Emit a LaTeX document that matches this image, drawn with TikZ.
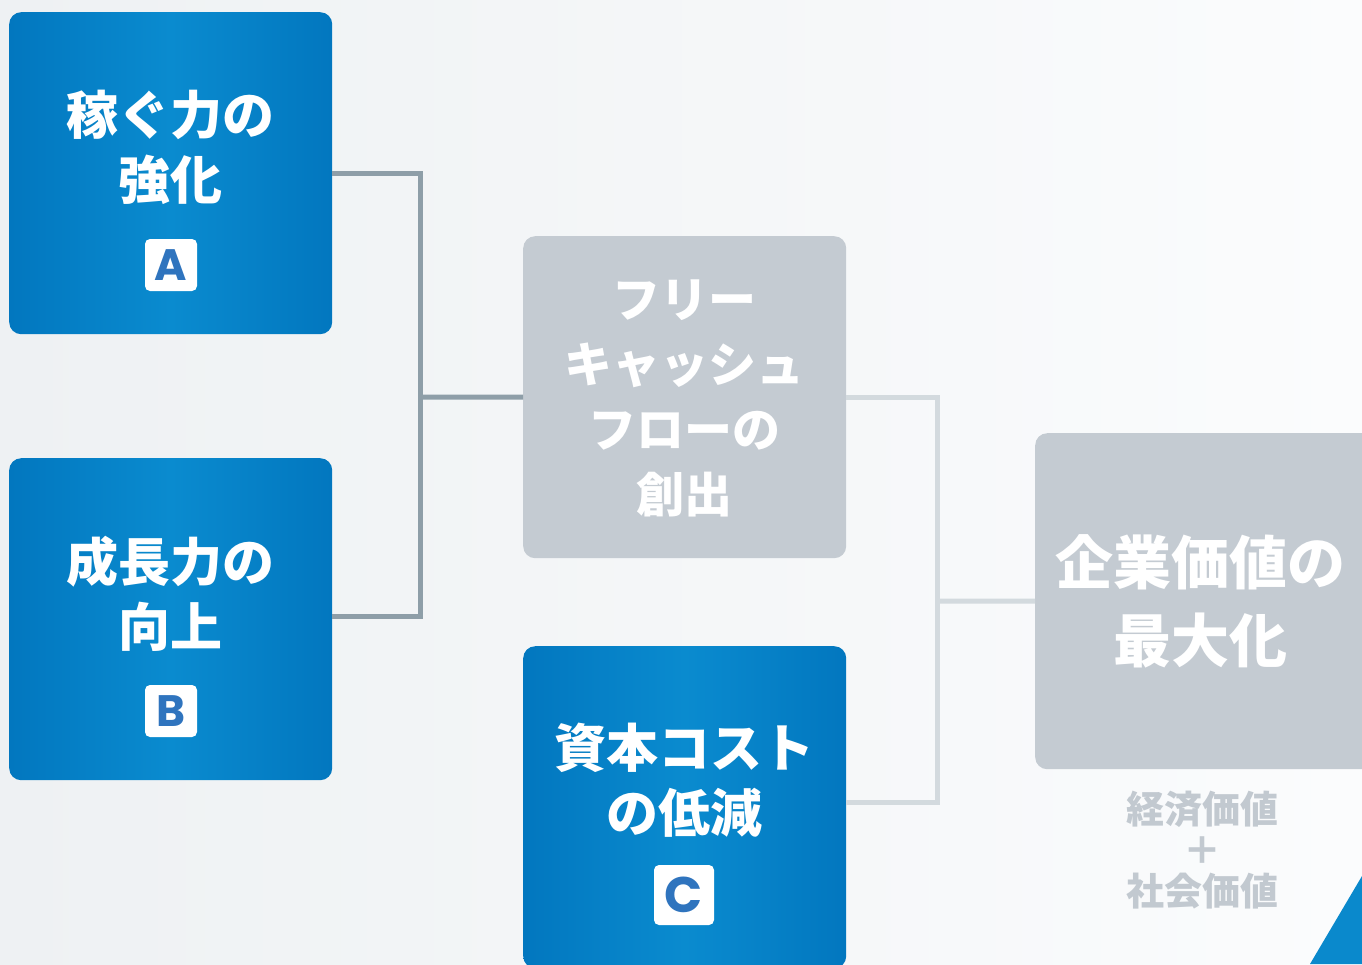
\documentclass[tikz,border=0pt]{standalone}
\usepackage{fontspec}
\newfontfamily\jp{Noto Sans CJK JP}
\newfontfamily\lat{Poppins}
\definecolor{bgL}{HTML}{EEF1F3}
\definecolor{bgR}{HTML}{FBFCFD}
\definecolor{blueE}{HTML}{0277BF}
\definecolor{blueM}{HTML}{0A8BCF}
\definecolor{grayBox}{HTML}{C4CBD2}
\definecolor{darkLine}{HTML}{8E9EA8}
\definecolor{lightLine}{HTML}{D3DADE}
\definecolor{subText}{HTML}{C2C9D0}
\definecolor{badgeText}{HTML}{2F74BE}
\definecolor{triBlue}{HTML}{0A89CC}
\tikzset{
  bluebox/.style={rounded corners=12pt, left color=blueE, right color=blueE, middle color=blueM,
    minimum width=323pt, minimum height=322pt, inner sep=0pt, anchor=north west, draw=none},
  graybox/.style={rounded corners=12pt, fill=grayBox, minimum width=323pt, minimum height=322pt,
    inner sep=0pt, anchor=north west, draw=none},
  boxtext/.style={text=white, align=center, inner sep=0pt, font=\jp\bfseries\fontsize{52}{65}\selectfont},
  badge/.style={fill=white, rounded corners=5pt, minimum size=52pt, inner sep=0pt,
    text=badgeText, font=\lat\bfseries\fontsize{44}{44}\selectfont},
  darkconn/.style={draw=darkLine, line width=5pt},
  lightconn/.style={draw=lightLine, line width=5pt},
}
\begin{document}
\begin{tikzpicture}[x=1pt,y=-1pt]
\useasboundingbox (0,0) rectangle (1362,964);
\clip (0,0) rectangle (1362,964);
\shade[left color=bgL, right color=bgR] (0,0) rectangle (1362,964);

\node[bluebox] (A) at (9,12) {};
\node[bluebox] (B) at (9,458) {};
\node[graybox] (F) at (523,236) {};
\node[bluebox, minimum height=322pt] (C) at (523,646) {};
\node[graybox, minimum width=345pt, minimum height=336pt] (V) at (1035,433) {};

\coordinate (j1) at (420,397);
\coordinate (j2) at (937,601);
\draw[darkconn] (A.east) -| (j1) |- ([yshift=3pt]B.east);
\draw[darkconn] (j1) -- (F.west);
\draw[lightconn] (F.east) -| (j2) |- ([yshift=5pt]C.east);
\draw[lightconn] (j2) -- (V.west);

\node[boxtext] (At) at (170,147) {稼ぐ力の\\強化};
\node[badge] (Ab) at (171,265) {A};
\node[boxtext] (Bt) at (170,594) {成長力の\\向上};
\node[badge] (Bb) at (171,711) {B};
\node[boxtext, font=\jp\bfseries\fontsize{48}{65}\selectfont] (Ft) at (684,398) {フリー\\キャッシュ\\フローの\\創出};
\node[boxtext] (Ct) at (684,780) {資本コスト\\の低減};
\node[badge, minimum size=60pt, font=\lat\bfseries\fontsize{50}{50}\selectfont] (Cb) at (684,895) {C};
\node[boxtext, font=\jp\bfseries\fontsize{58}{78}\selectfont] (Vt) at (1200,601) {企業価値の\\最大化};
\node[align=center, inner sep=0pt, text=subText, font=\jp\bfseries\fontsize{38}{41}\selectfont] (St) at (1202,850) {経済価値\\＋\\社会価値};

\fill[triBlue] (1310,964) -- (1362,876) -- (1362,964) -- cycle;
\end{tikzpicture}
\end{document}
